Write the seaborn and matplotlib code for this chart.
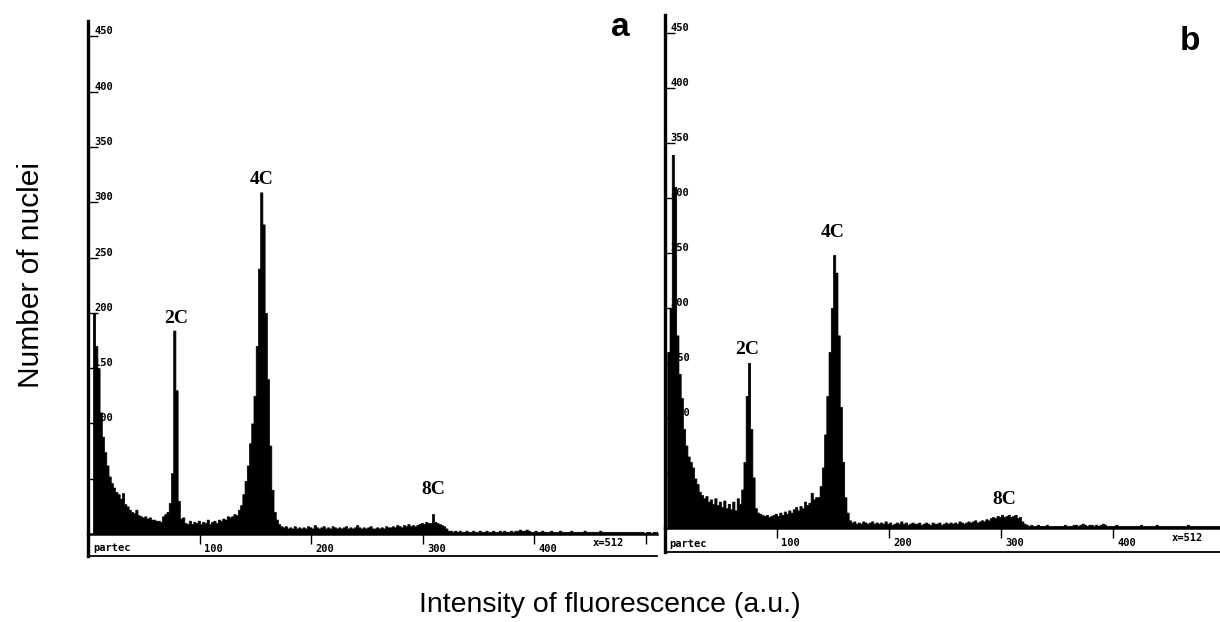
import numpy as np
import pandas as pd
import matplotlib.pyplot as plt
import seaborn as sns
from matplotlib.transforms import ScaledTranslation

# channel grid (2 channels per bin) and counts
channels = list(range(0, 512, 2))

counts_a = [
    0, 0, 200, 170, 150, 110, 88, 74, 62, 52, 46, 42, 38, 36, 32, 37,
    27, 25, 22, 20, 19, 22, 17, 16, 15, 16, 14, 15, 13, 13, 12, 12,
    11, 16, 18, 20, 28, 55, 184, 130, 30, 14, 15, 10, 9, 12, 9, 11,
    10, 12, 9, 11, 10, 13, 9, 11, 12, 10, 13, 12, 14, 13, 16, 15,
    16, 18, 17, 22, 26, 36, 48, 62, 82, 100, 125, 170, 240, 309, 280, 200,
    140, 80, 40, 20, 13, 9, 7, 6, 7, 5, 6, 5, 7, 5, 6, 5,
    6, 5, 7, 6, 5, 8, 6, 5, 6, 7, 5, 6, 5, 7, 6, 5,
    6, 5, 6, 7, 5, 6, 5, 6, 8, 6, 5, 6, 5, 6, 7, 5,
    5, 6, 5, 6, 5, 7, 6, 6, 7, 6, 8, 7, 6, 8, 7, 9,
    7, 8, 7, 8, 9, 10, 9, 11, 10, 10, 18, 11, 10, 9, 8, 7,
    5, 3, 3, 2, 3, 2, 3, 2, 2, 3, 2, 2, 3, 2, 2, 3,
    2, 2, 3, 2, 2, 3, 2, 2, 3, 2, 3, 2, 2, 3, 2, 3,
    3, 4, 3, 3, 4, 3, 2, 2, 3, 2, 2, 3, 2, 2, 2, 3,
    2, 2, 2, 3, 2, 2, 2, 2, 3, 2, 2, 2, 2, 2, 3, 2,
    2, 2, 2, 2, 2, 3, 2, 2, 2, 2, 2, 2, 2, 2, 2, 2,
    2, 2, 2, 2, 2, 2, 2, 2, 2, 1, 2, 2, 1, 2, 2, 1,
]

counts_b = [
    0, 160, 200, 339, 310, 175, 140, 118, 90, 75, 65, 60, 55, 45, 40, 33,
    30, 27, 29, 24, 26, 22, 27, 21, 24, 19, 25, 18, 22, 17, 24, 16,
    27, 22, 35, 60, 120, 150, 90, 46, 18, 14, 13, 12, 11, 12, 10, 11,
    12, 13, 11, 14, 12, 15, 13, 16, 14, 17, 19, 16, 20, 18, 24, 21,
    23, 32, 26, 28, 28, 38, 55, 85, 120, 160, 200, 248, 232, 175, 110, 60,
    28, 14, 7, 5, 6, 4, 5, 4, 6, 5, 4, 5, 6, 4, 5, 4,
    5, 4, 6, 4, 5, 3, 4, 5, 4, 6, 4, 5, 3, 4, 5, 4,
    4, 5, 3, 4, 5, 4, 3, 5, 4, 4, 5, 3, 4, 5, 4, 5,
    4, 5, 4, 6, 5, 4, 5, 6, 5, 6, 7, 5, 6, 7, 6, 8,
    7, 9, 10, 9, 11, 10, 12, 10, 11, 12, 10, 11, 12, 9, 10, 6,
    4, 3, 2, 3, 2, 2, 3, 2, 2, 2, 3, 2, 2, 2, 2, 2,
    2, 2, 3, 2, 2, 2, 3, 3, 2, 3, 4, 3, 2, 3, 3, 2,
    3, 2, 3, 4, 3, 2, 2, 2, 2, 3, 2, 2, 2, 2, 2, 2,
    2, 2, 2, 2, 3, 2, 2, 2, 2, 2, 2, 3, 2, 2, 2, 2,
    2, 2, 2, 2, 2, 2, 2, 2, 2, 3, 2, 2, 2, 2, 2, 2,
    2, 2, 2, 2, 2, 2, 2, 2, 2, 2, 2, 2, 2, 2, 2, 2,
]

y_ticks = [50, 100, 150, 200, 250, 300, 350, 400, 450]
x_ticks = [100, 200, 300, 400, 500]
x_tick_labels = ["100", "200", "300", "400", ""]
peak_names = ["2C", "4C", "8C"]

sns.set_style("white")
plt.rcParams['font.family'] = ['Liberation Sans', 'DejaVu Sans']
plt.rcParams['text.color'] = 'black'
plt.rcParams['xtick.color'] = 'black'
plt.rcParams['ytick.color'] = 'black'

fig = plt.figure(figsize=(12.2, 6.22), dpi=100)
mono = dict(fontfamily='DejaVu Sans Mono', fontweight='bold', fontsize=7.5,
            color='black')


def draw_panel(rect, strip_rect, counts, xmax, ymax, label_xy):
    ax = fig.add_axes(rect)
    df = pd.DataFrame({"channel": channels, "count": counts})
    sns.histplot(data=df, x="channel", weights="count", binwidth=2, binrange=(0, 512),
                 element="step", fill=True, color="black", alpha=1,
                 linewidth=0.5, edgecolor="black", ax=ax)
    ax.set_xlim(0, xmax)
    ax.set_ylim(0, ymax)
    ax.set_xlabel("")
    ax.set_ylabel("")
    for s in ["top", "right"]:
        ax.spines[s].set_visible(False)
    ax.spines["left"].set_linewidth(2.4)
    ax.spines["bottom"].set_linewidth(1.8)
    ax.spines["left"].set_color("black")
    ax.spines["bottom"].set_color("black")

    ax.set_yticks(y_ticks)
    ax.set_yticklabels([str(v) for v in y_ticks], **mono)
    ax.tick_params(axis="y", direction="in", length=7, width=1, pad=-4,
                   color="black", left=True)
    for lbl in ax.get_yticklabels():
        lbl.set_ha("left")
        lbl.set_va("bottom")

    ax.set_xticks(x_ticks)
    ax.set_xticklabels(x_tick_labels, **mono)
    ax.tick_params(axis="x", direction="out", length=7, width=1, pad=0,
                   color="black", bottom=True)
    shift = ScaledTranslation(3 / 72, 0, fig.dpi_scale_trans)
    for lbl in ax.get_xticklabels():
        lbl.set_ha("left")
        lbl.set_transform(lbl.get_transform() + shift)

    for name, (px, py) in zip(peak_names, label_xy):
        ax.text(px, py, name, ha="center", va="center", fontsize=14,
                fontweight="bold", fontfamily="Liberation Serif")

    sa = fig.add_axes(strip_rect)
    sa.patch.set_visible(False)
    sa.set_xlim(0, xmax)
    sa.set_ylim(0, 1)
    sa.set_xticks([])
    sa.set_yticks([])
    sa.spines["top"].set_visible(False)
    sa.spines["right"].set_visible(False)
    sa.spines["left"].set_linewidth(2.4)
    sa.spines["bottom"].set_linewidth(1.3)
    sa.spines["left"].set_color("black")
    sa.spines["bottom"].set_color("black")
    sa.text(4, 0.35, "partec", va="center", ha="left", **mono)
    sa.text(452, 0.6, "x=512", va="center", ha="left", **mono)
    return ax


draw_panel([0.0725, 0.1415, 0.4661, 0.8248], [0.0725, 0.1061, 0.4661, 0.0354],
           counts_a, 510, 464, [(78.5, 195), (155.6, 321), (309, 40)])
draw_panel([0.5451, 0.1511, 0.470, 0.8248], [0.5451, 0.1125, 0.470, 0.0386],
           counts_b, 512, 466, [(73, 162), (150, 268), (303, 26)])

fig.text(620 / 1220, 1 - 28 / 622, "a", fontsize=24, fontweight="bold",
         ha="center", va="center")
fig.text(1190 / 1220, 1 - 42 / 622, "b", fontsize=24, fontweight="bold",
         ha="center", va="center")

fig.text(31 / 1220, 1 - 275 / 622, "Number of nuclei", rotation=90,
         fontsize=21.5, ha="center", va="center")
fig.text(610 / 1220, 1 - 605 / 622, "Intensity of fluorescence (a.u.)",
         fontsize=20.5, ha="center", va="center")

fig.savefig("out.png", dpi=100)
